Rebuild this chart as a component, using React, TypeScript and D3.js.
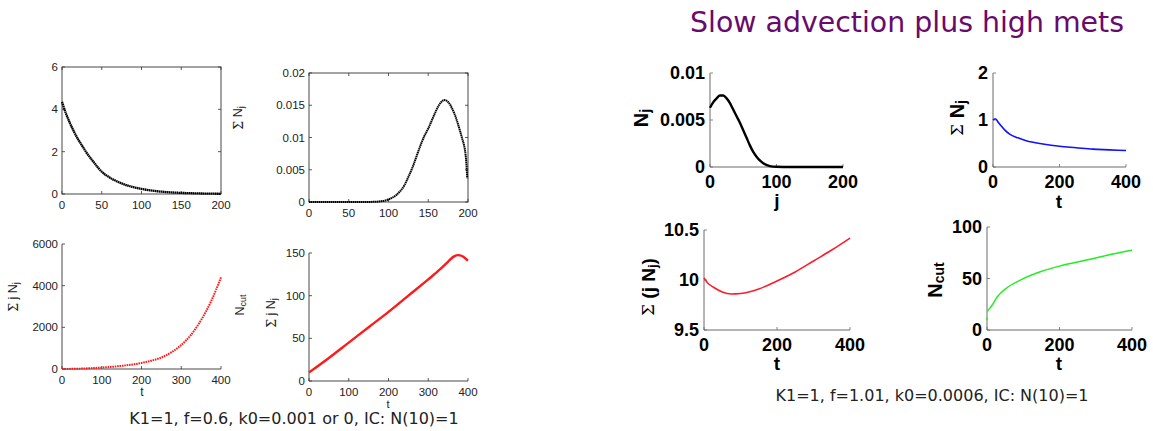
import React from 'react';
import * as d3 from 'd3';

// ---- data ----
// left group (K1=1, f=0.6)
const aJ = [0, 5, 10, 15, 20, 25, 30, 40, 50, 60, 75, 90, 100, 120, 140, 160, 180, 200];
const aN = [4.35, 3.8, 3.35, 2.95, 2.6, 2.3, 2.0, 1.5, 1.05, 0.78, 0.5, 0.32, 0.24, 0.13, 0.07, 0.04, 0.02, 0.01];

const bJ = [0, 50, 80, 90, 100, 110, 120, 125, 130, 135, 140, 145, 150, 155, 160, 165, 170, 175, 180, 185, 190, 193, 195, 196, 197, 198, 199];
const bN = [0, 0, 0.00002, 0.0001, 0.0004, 0.0011, 0.0026, 0.0039, 0.0053, 0.007, 0.0087, 0.0102, 0.0114, 0.0128, 0.0142, 0.0153, 0.0158, 0.0155, 0.0145, 0.013, 0.011, 0.0097, 0.0088, 0.0082, 0.0073, 0.0059, 0.0037];

const cT = [0, 50, 100, 150, 200, 225, 250, 275, 300, 325, 350, 375, 400];
const cSum = [0, 20, 70, 150, 290, 400, 550, 800, 1150, 1650, 2350, 3250, 4400];

const dT = [0, 50, 100, 150, 200, 250, 300, 330, 350, 365, 375, 385, 395, 400];
const dSum = [10, 27, 45, 63, 81, 100, 119, 131, 140, 146, 147.5, 146.5, 143, 141];

// right group (K1=1, f=1.01) "Slow advection plus high mets"
const eJ = [0, 5, 10, 15, 20, 25, 30, 35, 40, 45, 50, 55, 60, 65, 70, 75, 80, 90, 100, 120, 200];
const eN = [0.0063, 0.0069, 0.0073, 0.0076, 0.0076, 0.0073, 0.0068, 0.0061, 0.0054, 0.0047, 0.0039, 0.0031, 0.0023, 0.0016, 0.0011, 0.0007, 0.0004, 0.0001, 0.00002, 0, 0];

const fT = [0, 5, 8, 15, 25, 35, 50, 75, 100, 150, 200, 250, 300, 350, 400];
const fSum = [1.0, 1.02, 1.02, 0.96, 0.87, 0.79, 0.7, 0.62, 0.56, 0.49, 0.44, 0.41, 0.38, 0.365, 0.35];

const gT = [0, 10, 25, 50, 75, 100, 150, 200, 250, 300, 350, 400];
const gSum = [10.02, 9.97, 9.93, 9.88, 9.86, 9.865, 9.91, 9.99, 10.08, 10.19, 10.3, 10.42];

const hT = [0, 1, 5, 14, 28, 55, 92, 147, 200, 250, 294, 350, 400];
const hCut = [11, 18, 20, 24, 32, 41, 48.5, 56.5, 62, 66, 69.5, 74, 77.5];

const ticks0to200 = [0, 50, 100, 150, 200];
const ticks0to400 = [0, 100, 200, 300, 400];

const TITLE = 'Slow advection plus high mets';
const CAPTION_LEFT = 'K1=1, f=0.6, k0=0.001 or 0, IC: N(10)=1';
const CAPTION_RIGHT = 'K1=1, f=1.01, k0=0.0006, IC: N(10)=1';

type Kind = 'box' | 'open' | 'bold';

type PanelProps = {
  box: [number, number, number, number];
  xd: [number, number];
  yd: [number, number];
  xt: number[];
  yt: number[];
  xs: number[];
  ys: number[];
  color: string;
  width: number;
  dash?: string;
  kind: Kind;
  firstGap?: boolean;
};

function Panel(p: PanelProps) {
  const [l, t, r, b] = p.box;
  const x = d3.scaleLinear().domain(p.xd).range([l, r]);
  const y = d3.scaleLinear().domain(p.yd).range([b, t]);
  const pts: [number, number][] = p.xs.map((v, i) => [v, p.ys[i]]);
  const line = d3
    .line<[number, number]>()
    .x((d) => x(d[0]))
    .y((d) => y(d[1]))
    .curve(d3.curveMonotoneX);
  const bold = p.kind === 'bold';
  const axisColor = bold ? '#6a6a6a' : '#333';
  const font = bold
    ? { fontFamily: 'Liberation Sans, Arial, sans-serif', fontSize: 18, fontWeight: 700, fill: '#000' }
    : { fontFamily: 'Liberation Sans, Arial, sans-serif', fontSize: 11.5, fill: '#222' };
  const tl = 3;
  const linePts = p.firstGap ? pts.slice(1) : pts;
  return (
    <g>
      {p.kind === 'box' && <rect x={l} y={t} width={r - l} height={b - t} fill="none" stroke={axisColor} strokeWidth={0.9} />}
      {p.kind !== 'box' && (
        <path d={`M${l},${t}V${b}H${r}`} fill="none" stroke={axisColor} strokeWidth={bold ? 1 : 0.9} />
      )}
      {p.xt.map((v) => (
        <g key={'x' + v}>
          <line x1={x(v)} x2={x(v)} y1={b} y2={b - tl} stroke={axisColor} strokeWidth={0.8} />
          {p.kind === 'box' && <line x1={x(v)} x2={x(v)} y1={t} y2={t + tl} stroke={axisColor} strokeWidth={0.8} />}
          <text x={x(v)} y={b + (bold ? 20.5 : 15)} textAnchor="middle" {...font}>
            {String(v)}
          </text>
        </g>
      ))}
      {p.yt.map((v) => (
        <g key={'y' + v}>
          <line x1={l} x2={l + tl} y1={y(v)} y2={y(v)} stroke={axisColor} strokeWidth={0.8} />
          {p.kind === 'box' && <line x1={r} x2={r - tl} y1={y(v)} y2={y(v)} stroke={axisColor} strokeWidth={0.8} />}
          <text x={l - (bold ? 5 : 4)} y={y(v)} dy="0.35em" textAnchor="end" {...font}>
            {String(v)}
          </text>
        </g>
      ))}
      <path
        d={line(linePts) || ''}
        fill="none"
        stroke={p.color}
        strokeWidth={p.width}
        strokeDasharray={p.dash}
      />
      {p.firstGap && <circle cx={x(pts[0][0])} cy={y(pts[0][1])} r={1} fill={p.color} />}
    </g>
  );
}

const smallFont = { fontFamily: 'Liberation Sans, Arial, sans-serif', fill: '#222' };
const boldFont = { fontFamily: 'Liberation Sans, Arial, sans-serif', fontWeight: 700, fill: '#000' };
const sigmaFont = { fontFamily: 'DejaVu Serif, serif', fontWeight: 400 };

function VLabel({ x, y, children, size, style }: { x: number; y: number; children: React.ReactNode; size: number; style: any }) {
  return (
    <text transform={`translate(${x},${y}) rotate(-90)`} textAnchor="middle" dominantBaseline="central" fontSize={size} {...style}>
      {children}
    </text>
  );
}

export default function App() {
  return (
    <svg width={1153} height={431} style={{ position: 'absolute', left: 0, top: 0, background: '#fff' }}>
      <rect width={1153} height={431} fill="#fff" />

      {/* left group */}
      <Panel box={[62, 67, 221, 194]} xd={[0, 200]} yd={[0, 6]} xt={ticks0to200} yt={[0, 2, 4, 6]}
        xs={aJ} ys={aN} color="#000" width={2.3} dash="1.6 0.4" kind="box" />
      <Panel box={[309, 73, 468, 202]} xd={[0, 200]} yd={[0, 0.02]} xt={ticks0to200} yt={[0, 0.005, 0.01, 0.015, 0.02]}
        xs={bJ} ys={bN} color="#000" width={2} dash="1.5 0.5" kind="box" />
      <VLabel x={238} y={118} size={12.5} style={smallFont}>
        <tspan {...sigmaFont}>Σ</tspan> N<tspan fontSize={9} dy={3}>j</tspan>
      </VLabel>

      <Panel box={[62, 244, 221, 369]} xd={[0, 400]} yd={[0, 6000]} xt={ticks0to400} yt={[0, 2000, 4000, 6000]}
        xs={cT} ys={cSum} color="#ff1a1a" width={2} dash="1.6 0.8" kind="open" />
      <text x={142} y={396} textAnchor="middle" fontSize={12} {...smallFont}>t</text>
      <VLabel x={13} y={297} size={12.5} style={smallFont}>
        <tspan {...sigmaFont}>Σ</tspan> j N<tspan fontSize={9} dy={3}>j</tspan>
      </VLabel>

      <Panel box={[309, 253, 468, 381]} xd={[0, 400]} yd={[0, 150]} xt={ticks0to400} yt={[0, 50, 100, 150]}
        xs={dT} ys={dSum} color="#ff1a1a" width={2.4} kind="open" />
      <text x={388} y={408} textAnchor="middle" fontSize={11} {...smallFont}>t</text>
      <VLabel x={240} y={305} size={12.5} style={smallFont}>
        N<tspan fontSize={9} dy={3}>cut</tspan>
      </VLabel>
      <VLabel x={271} y={313} size={12.5} style={smallFont}>
        <tspan {...sigmaFont}>Σ</tspan> j N<tspan fontSize={9} dy={3}>j</tspan>
      </VLabel>

      <text x={294} y={424} textAnchor="middle" fontFamily="DejaVu Sans, sans-serif" fontSize={16} fill="#222">
        {CAPTION_LEFT}
      </text>

      {/* right group */}
      <text x={907} y={32} textAnchor="middle" fontFamily="DejaVu Sans, sans-serif" fontSize={28.4} fill="#690a6c">
        {TITLE}
      </text>

      <Panel box={[710, 73, 843, 167]} xd={[0, 200]} yd={[0, 0.01]} xt={[0, 100, 200]} yt={[0, 0.005, 0.01]}
        xs={eJ} ys={eN} color="#000" width={2.4} kind="bold" />
      <text x={777} y={207} textAnchor="middle" fontSize={19} {...boldFont}>j</text>
      <VLabel x={641} y={118} size={20} style={boldFont}>
        N<tspan fontSize={14} dy={4}>j</tspan>
      </VLabel>

      <Panel box={[993, 73, 1126, 167]} xd={[0, 400]} yd={[0, 2]} xt={[0, 200, 400]} yt={[0, 1, 2]}
        xs={fT} ys={fSum} color="#1010ff" width={1.6} kind="bold" />
      <text x={1059} y={207.5} textAnchor="middle" fontSize={19} {...boldFont}>t</text>
      <VLabel x={957} y={118} size={20} style={boldFont}>
        <tspan {...sigmaFont} fontSize={17}>Σ</tspan> N<tspan fontSize={14} dy={4}>j</tspan>
      </VLabel>

      <Panel box={[704, 230, 850, 330]} xd={[0, 400]} yd={[9.5, 10.5]} xt={[0, 200, 400]} yt={[9.5, 10, 10.5]}
        xs={gT} ys={gSum} color="#ff1a2a" width={1.5} kind="bold" />
      <text x={777} y={370} textAnchor="middle" fontSize={19} {...boldFont}>t</text>
      <VLabel x={648} y={287} size={19} style={boldFont}>
        <tspan {...sigmaFont} fontSize={17}>Σ</tspan> (j N<tspan fontSize={13} dy={4}>j</tspan><tspan dy={-4}>)</tspan>
      </VLabel>

      <Panel box={[987, 227, 1132, 330]} xd={[0, 400]} yd={[0, 100]} xt={[0, 200, 400]} yt={[0, 50, 100]}
        xs={hT} ys={hCut} color="#22ee22" width={1.5} kind="bold" firstGap />
      <text x={1059} y={370} textAnchor="middle" fontSize={19} {...boldFont}>t</text>
      <VLabel x={935} y={280} size={20} style={boldFont}>
        N<tspan fontSize={14} dy={4}>cut</tspan>
      </VLabel>

      <text x={932} y={401} textAnchor="middle" fontFamily="DejaVu Sans, sans-serif" fontSize={16} fill="#222">
        {CAPTION_RIGHT}
      </text>
    </svg>
  );
}
